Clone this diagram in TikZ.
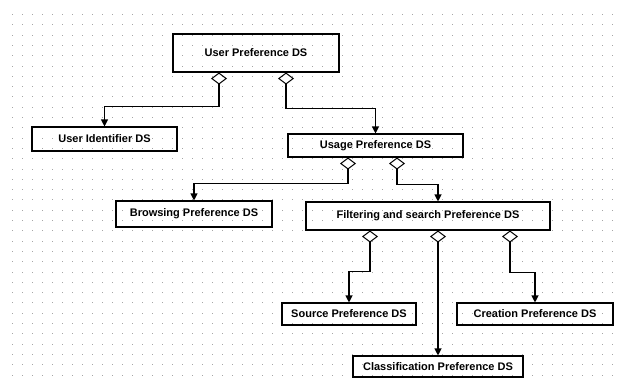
\documentclass[tikz,border=0pt]{standalone}
\usepackage{fontspec}
\setmainfont{Liberation Sans}
\usetikzlibrary{arrows.meta}

\begin{document}
\begin{tikzpicture}[x=1pt,y=-1pt,
  ds/.style={draw,line width=1.1pt,inner sep=0pt,font=\fontsize{11}{13}\selectfont\bfseries},
  agg/.style={draw,line width=1.1pt,{Diamond[open,length=12pt,width=16pt,line width=1pt]}-{Triangle[length=7pt,width=7pt]}}]
\useasboundingbox (0,0) rectangle (619,383);
% dotted background
\foreach \i in {0,...,60}
  \foreach \j in {0,...,36}
    \fill[black!35] ({12+10*\i},{14+10.3*\j}) rectangle +(1,1);
\node[ds,minimum width=166pt,minimum height=38pt] (user) at (256,53) {User Preference DS};
\node[ds,minimum width=145pt,minimum height=24pt] (ident) at (104.5,139) {User Identifier DS};
\node[ds,minimum width=175pt,minimum height=23pt] (usage) at (375.5,145.5) {Usage Preference DS};
\node[ds,minimum width=156pt,minimum height=26pt] (brows) at (194,214) {Browsing Preference DS};
\node[ds,minimum width=244pt,minimum height=28pt] (filt) at (428,216) {Filtering and search Preference DS};
\node[ds,minimum width=134pt,minimum height=22pt] (src) at (349,314) {Source Preference DS};
\node[ds,minimum width=156pt,minimum height=22pt] (creat) at (535,314) {Creation Preference DS};
\node[ds,minimum width=170pt,minimum height=21pt] (class) at (438,366.5) {Classification Preference DS};
% aggregations
\draw[agg] ([xshift=-37pt]user.south) -- ++(0,34) -| (ident.north);
\draw[agg] ([xshift=30pt]user.south) -- ++(0,36) -| (usage.north);
\draw[agg] ([xshift=-27.5pt]usage.south) -- ++(0,26) -| (brows.north);
\draw[agg] ([xshift=21.5pt]usage.south) -- ++(0,27) -| ([xshift=10pt]filt.north);
\draw[agg] ([xshift=-58pt]filt.south) -- ++(0,41) -| (src.north);
\draw[agg] ([xshift=10pt]filt.south) -- (class.north);
\draw[agg] ([xshift=82pt]filt.south) -- ++(0,42) -| (creat.north);
\end{tikzpicture}
\end{document}
